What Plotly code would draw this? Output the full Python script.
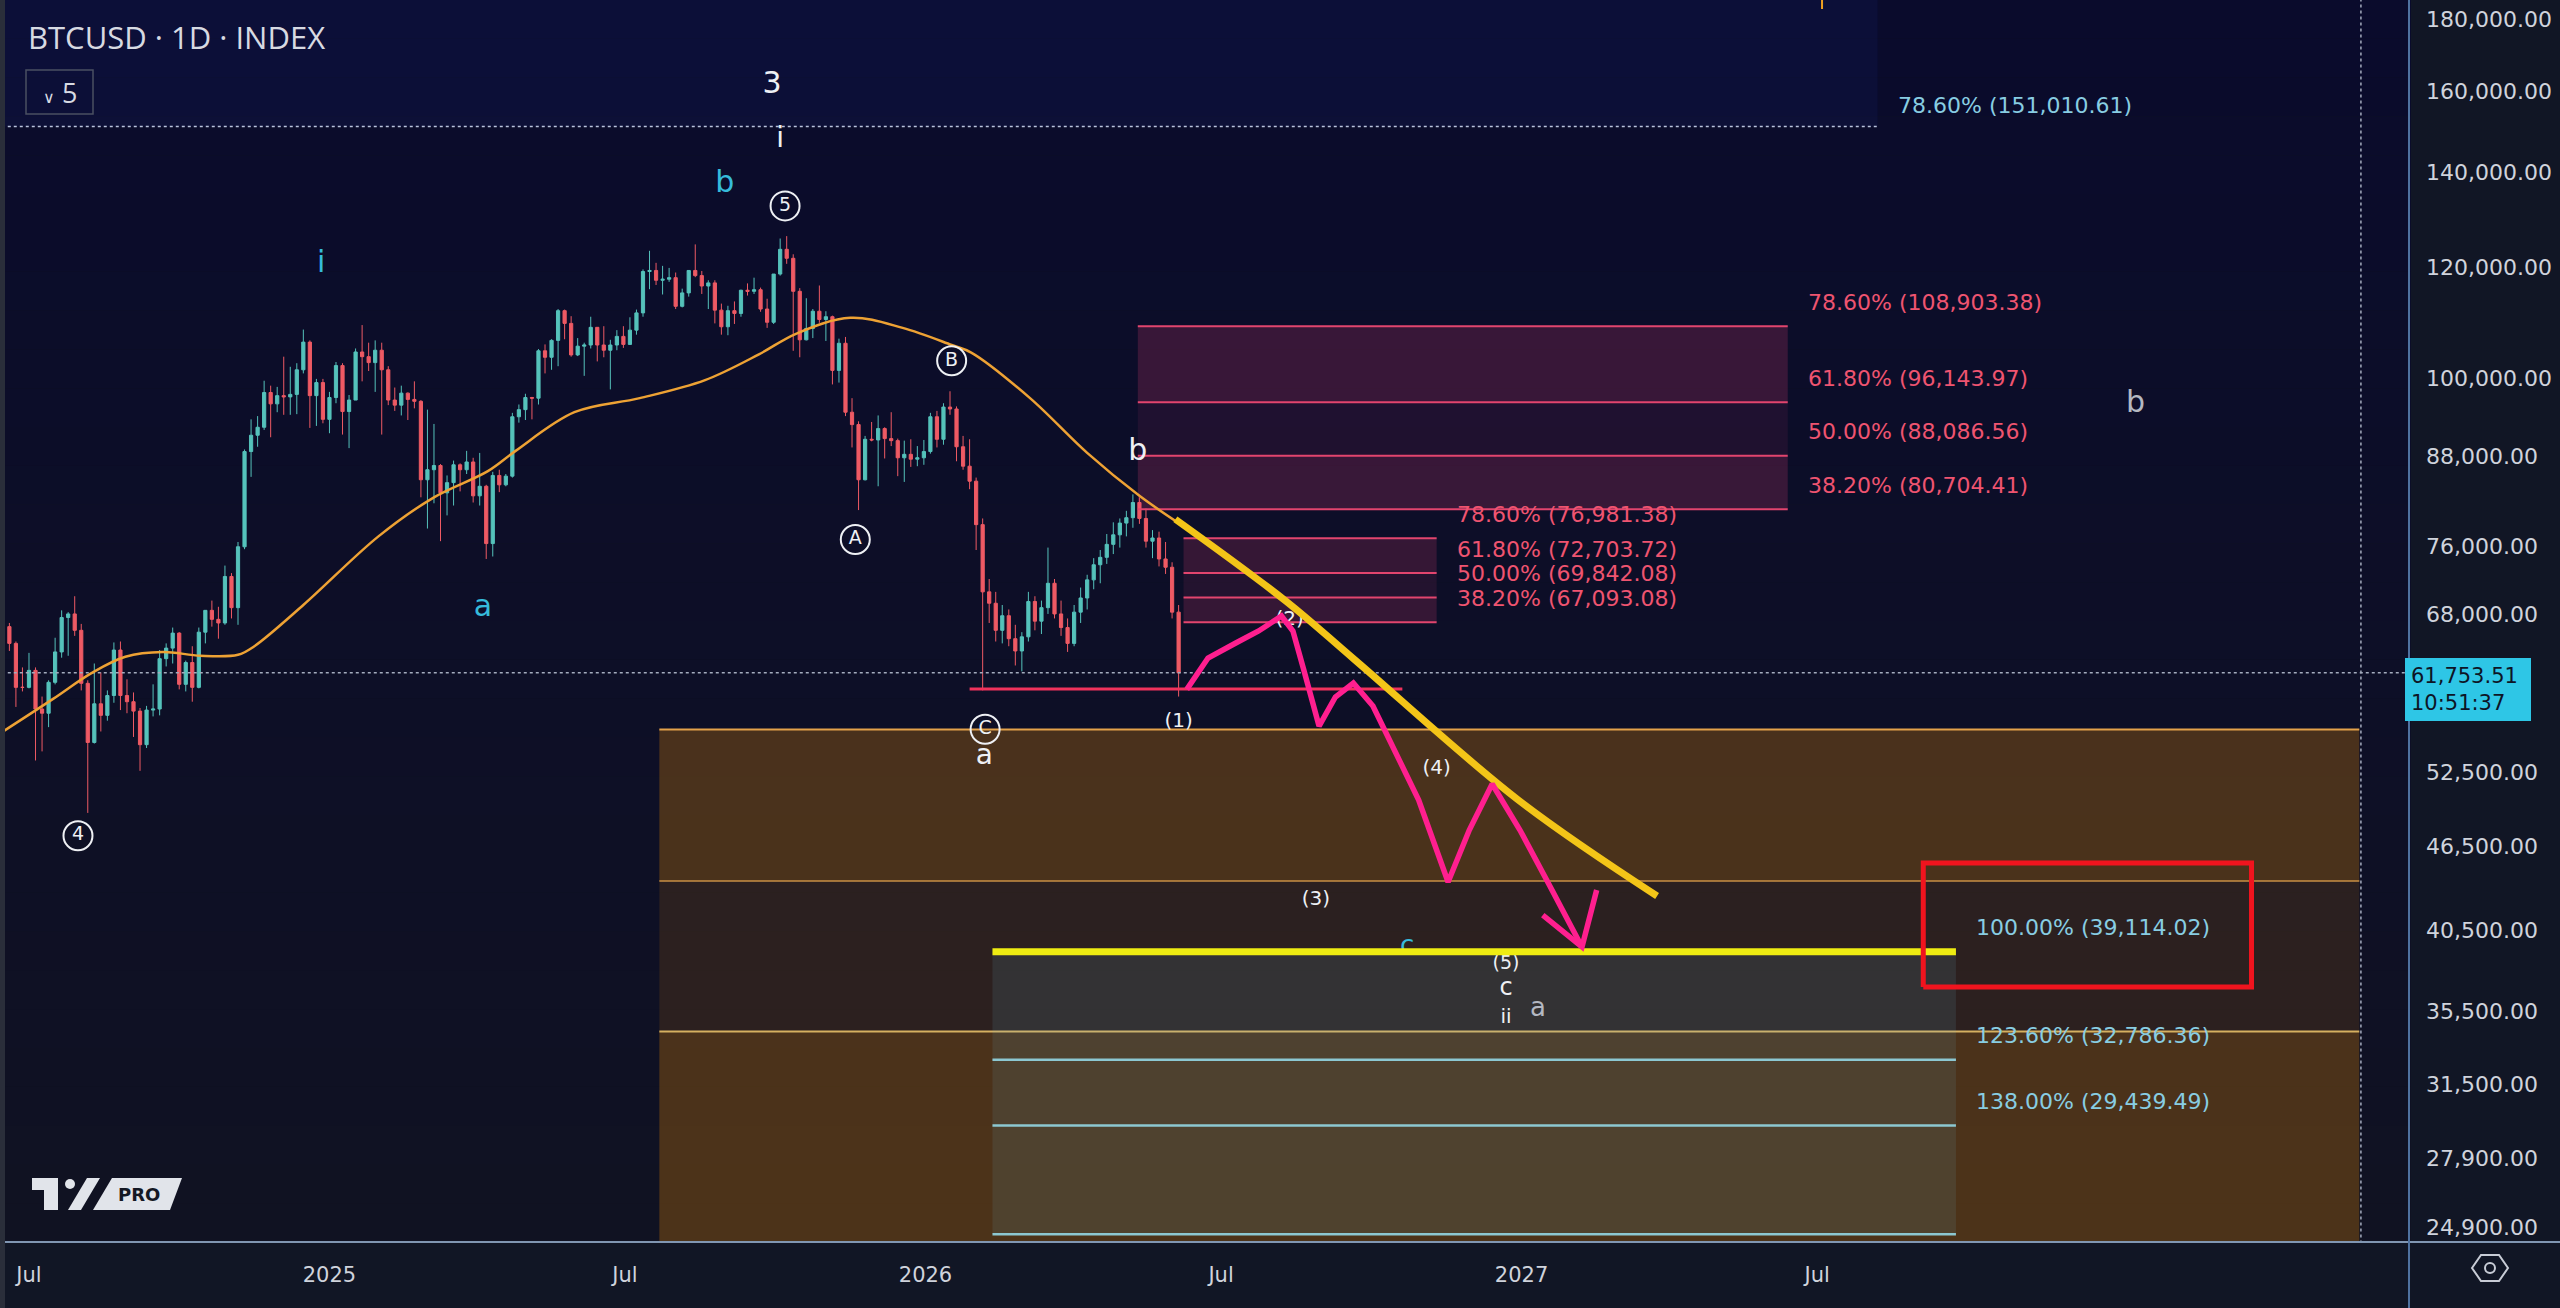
import numpy as np
import pandas as pd
import plotly.graph_objects as go

# ------------------------------------------------------------------ data
# 4-day candles, thousand USD (open of each bar = previous close)
bar_first_center = "2024-06-15"
bar_step = "4D"
first_open_k = 67.0
close_k = [66.6, 64.8, 60.3, 60.3, 62.0, 58.2, 57.8, 60.8, 63.9, 67.6,
           68.0, 66.2, 60.7, 55.1, 58.7, 57.6, 59.5, 64.1, 59.5, 58.9,
           58.0, 54.9, 58.1, 58.2, 63.2, 64.3, 65.9, 60.6, 62.8, 60.3,
           66.0, 68.4, 67.4, 67.0, 72.3, 68.7, 75.9, 88.7, 91.1, 92.3,
           97.7, 95.9, 97.2, 97.0, 97.4, 101.4, 106.1, 97.2, 99.3, 93.5,
           96.9, 102.1, 94.7, 96.5, 104.4, 103.6, 102.6, 104.7, 101.4, 96.5,
           95.7, 97.6, 96.6, 96.3, 84.7, 86.1, 86.7, 82.9, 84.3, 86.8,
           86.1, 87.2, 82.5, 83.8, 76.3, 85.3, 84.0, 85.2, 93.9, 95.0,
           96.9, 96.8, 104.6, 103.5, 106.4, 111.7, 109.4, 103.9, 105.4, 105.6,
           108.7, 105.6, 104.7, 105.6, 107.1, 105.7, 108.2, 111.3, 119.1, 119.3,
           117.4, 117.6, 117.9, 112.5, 115.0, 119.3, 118.3, 116.3, 116.9, 111.8,
           108.8, 111.7, 111.2, 115.5, 115.3, 115.6, 112.0, 109.6, 118.6, 123.5,
           121.7, 115.3, 106.5, 108.5, 111.6, 110.1, 110.6, 101.3, 105.9, 94.6,
           92.7, 84.7, 90.5, 90.4, 92.1, 90.6, 90.3, 87.8, 88.3, 87.6,
           87.8, 88.7, 93.9, 90.5, 95.4, 95.1, 89.4, 86.6, 84.5, 78.7,
           70.5, 69.2, 66.2, 67.8, 65.3, 64.0, 65.5, 69.4, 67.2, 68.7,
           71.5, 68.0, 66.5, 64.8, 68.2, 69.8, 71.9, 73.7, 74.6, 76.2,
           77.4, 78.9, 79.6, 81.6, 79.5, 76.6, 77.0, 74.4, 73.4, 68.2,
           61.75]
high_k = [67.5, 67.0, 65.0, 62.3, 63.8, 62.3, 59.4, 61.0, 65.4, 68.4,
          68.2, 70.0, 66.9, 61.0, 62.7, 61.8, 60.0, 64.9, 65.0, 61.1,
          59.8, 58.3, 58.5, 60.6, 64.1, 64.8, 66.5, 66.0, 63.0, 64.5,
          66.5, 68.4, 69.5, 68.8, 73.6, 72.7, 76.5, 89.0, 93.5, 94.0,
          99.6, 98.8, 98.6, 103.6, 101.9, 102.5, 108.3, 106.4, 99.9, 99.9,
          97.8, 102.7, 102.5, 97.3, 105.0, 109.1, 106.0, 106.4, 106.0, 102.0,
          98.5, 98.8, 97.7, 99.5, 96.5, 95.0, 92.8, 86.9, 85.3, 87.4,
          87.0, 88.8, 87.8, 88.5, 84.0, 85.8, 86.1, 85.5, 94.5, 95.8,
          97.5, 97.0, 104.9, 105.7, 106.6, 112.0, 111.9, 110.7, 106.8, 106.0,
          110.6, 108.7, 108.9, 106.5, 108.2, 108.9, 110.5, 111.9, 119.5, 123.2,
          120.8, 120.2, 119.8, 118.9, 115.8, 119.3, 124.5, 119.2, 117.4, 117.4,
          113.0, 112.6, 113.4, 115.6, 116.8, 117.9, 116.0, 113.9, 118.6, 125.7,
          126.2, 122.5, 115.9, 114.0, 112.0, 116.4, 111.6, 110.8, 106.7, 107.0,
          96.8, 93.2, 91.0, 93.1, 94.1, 92.3, 94.6, 90.6, 90.3, 90.5,
          89.5, 90.4, 94.5, 94.8, 96.0, 97.9, 95.5, 91.0, 90.5, 85.0,
          79.5, 72.0, 70.5, 69.0, 68.5, 66.8, 66.0, 70.5, 70.0, 69.5,
          75.8, 72.0, 69.5, 67.5, 69.0, 71.0, 72.5, 74.5, 75.5, 77.5,
          79.0, 79.5, 80.5, 82.7, 82.3, 80.8, 78.0, 77.8, 76.5, 74.0,
          69.0]
low_k = [65.0, 64.0, 58.4, 59.9, 60.2, 53.5, 54.3, 56.5, 60.6, 63.3,
         63.5, 65.6, 60.0, 49.1, 55.0, 56.1, 57.1, 58.8, 58.1, 57.8,
         55.6, 52.6, 54.6, 57.5, 57.6, 62.4, 62.7, 60.1, 59.9, 58.9,
         60.2, 64.8, 66.6, 65.3, 66.8, 67.5, 66.8, 75.6, 85.1, 89.4,
         91.9, 90.8, 94.6, 94.2, 94.2, 94.3, 100.8, 92.2, 92.5, 92.9,
         91.4, 96.0, 91.2, 89.2, 96.5, 99.5, 101.2, 97.8, 91.2, 95.7,
         94.8, 94.1, 93.4, 95.2, 82.3, 78.2, 81.5, 76.6, 79.9, 81.2,
         83.1, 85.5, 81.6, 81.2, 74.4, 74.7, 83.0, 83.8, 85.0, 93.0,
         93.4, 93.5, 95.8, 100.8, 101.4, 102.0, 106.6, 103.6, 103.7, 100.4,
         105.0, 102.8, 103.5, 98.2, 104.7, 105.1, 105.6, 107.4, 110.6, 115.7,
         116.5, 114.7, 117.1, 112.0, 112.3, 114.3, 118.0, 114.8, 112.0, 109.4,
         107.4, 107.3, 109.3, 110.6, 114.5, 114.8, 111.5, 108.6, 109.3, 118.3,
         120.6, 104.6, 103.5, 106.4, 106.8, 109.5, 106.3, 99.0, 99.3, 94.0,
         89.3, 80.6, 84.6, 90.2, 83.8, 87.7, 89.5, 85.2, 84.4, 86.5,
         86.6, 86.8, 88.4, 89.3, 89.7, 94.2, 87.3, 86.1, 83.4, 75.5,
         60.0, 67.0, 65.0, 64.8, 64.5, 62.5, 61.9, 65.0, 66.2, 65.8,
         68.0, 67.5, 65.6, 63.9, 64.5, 67.0, 68.5, 70.8, 71.5, 73.8,
         75.0, 75.8, 77.2, 78.3, 78.8, 75.8, 74.5, 73.5, 72.6, 67.5,
         59.4]

# moving average, thousand USD
ma_date = ["2024-06-12", "2024-07-16", "2024-08-08", "2024-08-29", "2024-09-21",
           "2024-10-14", "2024-11-06", "2024-11-16", "2024-12-16", "2025-01-31",
           "2025-03-06", "2025-04-08", "2025-04-25", "2025-05-31", "2025-07-10",
           "2025-08-19", "2025-09-21", "2025-10-14", "2025-11-16", "2025-12-18",
           "2026-01-17", "2026-01-29", "2026-03-06", "2026-04-10", "2026-05-12",
           "2026-06-05"]
ma_k = [55.8, 59.2, 61.7, 63.4, 63.9, 63.5, 63.6, 64.5, 69.0, 77.2,
        82.3, 85.9, 88.8, 94.6, 96.8, 99.7, 104.0, 107.6, 110.4, 108.6,
        105.6, 104.3, 96.8, 88.5, 82.5, 78.9]

price_now = 61753.51
clock_now = "10:51:37"

# fib tools
pink_big_x = ["2026-05-11", "2027-06-13"]
pink_big_levels = [108903.38, 96143.97, 88086.56, 80704.41]
pink_small_x = ["2026-06-08", "2026-11-10"]
pink_small_levels = [76981.38, 72703.72, 69842.08, 67093.08]
pink_pcts = ["78.60%", "61.80%", "50.00%", "38.20%"]
orange_x = ["2025-07-22", "2028-05-28"]
orange_levels = [56280.0, 43930.0, 34330.0]
cyan_x = ["2026-02-11", "2027-09-24"]
cyan_levels = [39114.02, 32786.36, 29439.49, 24640.0]
cyan_pcts = ["100.00%", "123.60%", "138.00%"]
top_fib_end = "2027-08-07"
top_fib_level = 151010.61
top_fib_pct = "78.60%"
support_x = ["2026-01-28", "2026-10-20"]
support_level = 60140.0
target_box_x = ["2027-09-04", "2028-03-23"]
target_box_k = [36.93, 45.23]
now_line_date = "2028-05-29"

# hand-drawn projection
trend_date = ["2026-06-03", "2026-08-10", "2026-09-21", "2026-12-30", "2027-03-25"]
trend_k = [79.4, 69.4, 63.06, 50.15, 42.86]
path_date = ["2026-06-10", "2026-06-23", "2026-07-10", "2026-07-24", "2026-08-07",
             "2026-08-14", "2026-08-21", "2026-08-30", "2026-09-09", "2026-09-20",
             "2026-10-02", "2026-10-12", "2026-10-30", "2026-11-17", "2026-11-30",
             "2026-12-14", "2026-12-31", "2027-01-18", "2027-02-07"]
path_k = [60.1, 63.27, 64.84, 66.13, 67.77, 66.13, 61.84, 56.6, 59.36, 60.73,
          58.49, 55.41, 50.15, 43.85, 47.74, 51.48, 47.74, 43.64, 39.43]
arrow_date = ["2027-01-14", "2027-02-07", "2027-02-16"]
arrow_k = [41.54, 39.43, 43.28]

# wave labels
wave_text = ["3", "i", "b", "i", "a", "a", "b", "(1)", "(2)", "(3)", "(4)",
             "(5)", "c", "ii", "a", "c", "b"]
wave_date = ["2025-09-29", "2025-10-04", "2025-08-31", "2024-12-27", "2025-04-05",
             "2026-02-06", "2026-05-11", "2026-06-05", "2026-08-12", "2026-08-28",
             "2026-11-10", "2026-12-22 12:00", "2026-12-22 12:00", "2026-12-22 12:00",
             "2027-01-11", "2026-10-23", "2028-01-12"]
wave_k = [161.6, 147.7, 137.4, 120.4, 68.6, 53.8, 88.5, 57.0, 67.3, 42.6, 52.8,
          38.3, 36.8, 35.1, 35.6, 39.4, 95.8]
circ_text = ["5", "4", "A", "B", "C"]
circ_date = ["2025-10-07", "2024-07-31", "2025-11-19", "2026-01-17", "2026-02-06 12:00"]
circ_k = [132.6, 47.3, 76.8, 102.9, 56.3]

# axes
x_range = ["2024-06-13 06:00", "2028-06-28 16:00"]
x_tickvals = ["2024-07-01", "2025-01-01", "2025-07-01", "2026-01-01",
              "2026-07-01", "2027-01-01", "2027-07-01"]
x_ticktext = ["Jul", "2025", "Jul", "2026", "Jul", "2027", "Jul"]
y_ticks = [180000, 160000, 140000, 120000, 100000, 88000, 76000, 68000,
           52500, 46500, 40500, 35500, 31500, 27900, 24900]
y_range = [24327, 185730]

# ------------------------------------------------------------------ styles
W_, CY, GR = "#eef0f4", "#36bbdb", "#b4b8c2"
wave_color = [W_, W_, CY, CY, CY, W_, W_, W_, W_, W_, W_, W_, W_, W_, GR, CY, GR]
wave_size = [30, 28, 30, 30, 30, 28, 30, 20, 20, 20, 20, 19, 24, 20, 26, 26, 30]
UP, DN = "#55c2bb", "#ee5a64"
PINK_TXT, CYAN_TXT = "#ef5470", "#88cde2"
FONT = "DejaVu Sans"
PR, PB = 2411, 1242          # plot area right / bottom in pixels


def px(x):
    return x / PR


def py(y):
    return 1 - y / PB


fig = go.Figure()

# background gradient
top_rgb, bot_rgb = (10, 11, 44), (16, 18, 34)
n = 32
for i in range(n):
    t = i / (n - 1)
    c = tuple(int(round(top_rgb[k] + (bot_rgb[k] - top_rgb[k]) * t)) for k in range(3))
    fig.add_shape(type="rect", xref="paper", yref="paper", x0=0, x1=1,
                  y0=1 - (i + 1) / n, y1=1 - i / n, fillcolor=f"rgb{c}",
                  line_width=0, layer="below")


def band(x0, x1, y0, y1, color):
    fig.add_trace(go.Scatter(x=[x0, x1, x1, x0, x0], y=[y0, y0, y1, y1, y0],
                             mode="lines", fill="toself", fillcolor=color,
                             line=dict(width=0), hoverinfo="skip", showlegend=False))


def seg(xs, ys, color, width, dash="solid", shape="linear"):
    fig.add_trace(go.Scatter(x=xs, y=ys, mode="lines",
                             line=dict(color=color, width=width, dash=dash, shape=shape),
                             hoverinfo="skip", showlegend=False))


far_left, far_right = "2024-01-01", "2029-01-01"
y_low, y_high = 15000, 300000

# top fib area (above 151k)
band(far_left, top_fib_end, top_fib_level, y_high, "rgba(40,70,200,0.08)")
seg([far_left, top_fib_end], [top_fib_level] * 2, "#b9c2dc", 1.5, "dot")

# orange retracement box
band(orange_x[0], orange_x[1], orange_levels[1], orange_levels[0], "rgba(255,152,0,0.25)")
band(orange_x[0], orange_x[1], orange_levels[2], orange_levels[1], "rgba(255,152,0,0.12)")
band(orange_x[0], orange_x[1], y_low, orange_levels[2], "rgba(255,152,0,0.25)")
seg(orange_x, [orange_levels[0]] * 2, "#e3a24a", 2)
seg(orange_x, [orange_levels[1]] * 2, "#c98f45", 1.5)
seg(orange_x, [orange_levels[2]] * 2, "#d6b060", 2)

# cyan extension box
band(cyan_x[0], cyan_x[1], cyan_levels[-1], cyan_levels[0], "rgba(110,185,205,0.12)")
for lv in cyan_levels[1:]:
    seg(cyan_x, [lv] * 2, "#8cc8d2", 2.5)

# pink retracement boxes
band(pink_big_x[0], pink_big_x[1], pink_big_levels[1], pink_big_levels[0], "rgba(236,64,122,0.20)")
band(pink_big_x[0], pink_big_x[1], pink_big_levels[2], pink_big_levels[1], "rgba(236,64,122,0.09)")
band(pink_big_x[0], pink_big_x[1], pink_big_levels[3], pink_big_levels[2], "rgba(236,64,122,0.20)")
for lv in pink_big_levels:
    seg(pink_big_x, [lv] * 2, "#e2456e", 2)
band(pink_small_x[0], pink_small_x[1], pink_small_levels[1], pink_small_levels[0], "rgba(236,64,122,0.18)")
band(pink_small_x[0], pink_small_x[1], pink_small_levels[2], pink_small_levels[1], "rgba(236,64,122,0.10)")
band(pink_small_x[0], pink_small_x[1], pink_small_levels[3], pink_small_levels[2], "rgba(236,64,122,0.18)")
for lv in pink_small_levels:
    seg(pink_small_x, [lv] * 2, "#e2456e", 2)

# support line, current price line, vertical marker
seg(support_x, [support_level] * 2, "#f0325c", 3)
seg([far_left, far_right], [price_now] * 2, "#a4acbe", 1.5, "dot")
seg([now_line_date] * 2, [y_low, y_high], "#a4acbe", 1.5, "dot")
seg(["2027-07-04"] * 2, [183000, y_high], "#f0a020", 2)

# candles
dates = pd.date_range(bar_first_center, periods=len(close_k), freq=bar_step)
open_k = [first_open_k] + close_k[:-1]
fig.add_trace(go.Candlestick(
    x=dates, open=np.array(open_k) * 1000, high=np.array(high_k) * 1000,
    low=np.array(low_k) * 1000, close=np.array(close_k) * 1000,
    increasing=dict(line=dict(color=UP, width=1), fillcolor=UP),
    decreasing=dict(line=dict(color=DN, width=1), fillcolor=DN),
    whiskerwidth=0, hoverinfo="skip", showlegend=False))

# moving average
seg(ma_date, np.array(ma_k) * 1000, "#eea234", 2.5, shape="spline")

# wave labels
fig.add_trace(go.Scatter(x=wave_date, y=np.array(wave_k) * 1000, mode="text",
                         text=wave_text, textposition="middle center",
                         textfont=dict(family=FONT, color=wave_color, size=wave_size),
                         hoverinfo="skip", showlegend=False))
fig.add_trace(go.Scatter(x=circ_date, y=np.array(circ_k) * 1000, mode="markers+text",
                         text=circ_text, textposition="middle center",
                         textfont=dict(family=FONT, color=W_, size=19),
                         marker=dict(symbol="circle-open", size=29, color=W_,
                                     line=dict(color=W_, width=2)),
                         hoverinfo="skip", showlegend=False))

# projection drawings
seg(cyan_x, [cyan_levels[0]] * 2, "#efec12", 7)
seg(trend_date, np.array(trend_k) * 1000, "#f3c518", 7, shape="spline")
seg(path_date, np.array(path_k) * 1000, "#ff1f8f", 5.5)
seg(arrow_date, np.array(arrow_k) * 1000, "#ff1f8f", 5.5)
tb = target_box_x
seg([tb[0], tb[1], tb[1], tb[0], tb[0]],
    np.array([target_box_k[0], target_box_k[0], target_box_k[1], target_box_k[1], target_box_k[0]]) * 1000,
    "#f0141e", 5)

# ------------------------------------------------------------------ labels
ann = []


def fib_label(x, level, pct, color):
    ann.append(dict(x=x, y=np.log10(level), xref="x", yref="y", xanchor="left",
                    yanchor="middle", xshift=18, yshift=24, showarrow=False,
                    text=f"{pct} ({level:,.2f})", font=dict(family=FONT, size=22, color=color)))


for lv, pc in zip(pink_big_levels, pink_pcts):
    fib_label(pink_big_x[1], lv, pc, PINK_TXT)
for lv, pc in zip(pink_small_levels, pink_pcts):
    fib_label(pink_small_x[1], lv, pc, PINK_TXT)
for lv, pc in zip(cyan_levels[:3], cyan_pcts):
    fib_label(cyan_x[1], lv, pc, CYAN_TXT)
fib_label(top_fib_end, top_fib_level, top_fib_pct, CYAN_TXT)
ann[-1]["yshift"] = 21

# header
ann.append(dict(x=px(26), y=py(37), xref="paper", yref="paper", xanchor="left",
                yanchor="middle", showarrow=False, text="BTCUSD · 1D · INDEX",
                font=dict(family="Open Sans", size=31, color="#d7dae2")))
ann.append(dict(x=px(59.5), y=py(92), xref="paper", yref="paper", xanchor="center",
                yanchor="middle", showarrow=False,
                text="<span style='font-size:16px'>∨</span> 5",
                font=dict(family="Open Sans", size=27, color="#d7dae2")))
# current price label on the axis
ann.append(dict(x=1, y=np.log10(price_now), xref="paper", yref="y", xanchor="left",
                yanchor="top", xshift=-6, yshift=15, showarrow=False,
                text=f"{price_now:,.2f}<br>{clock_now}", align="left",
                bgcolor="#2ec6e6", width=114, height=51, borderpad=6, borderwidth=0,
                font=dict(family=FONT, size=21, color="#0d1526")))

shapes = []
# ∨ 5 box
shapes.append(dict(type="rect", xref="paper", yref="paper", x0=px(26), x1=px(93),
                   y0=py(114), y1=py(70), line=dict(color="#4a5062", width=1.5)))
# frame lines
shapes.append(dict(type="line", xref="paper", yref="paper", x0=0, x1=2560 / PR,
                   y0=py(1242), y1=py(1242), line=dict(color="#8096b2", width=2)))
shapes.append(dict(type="line", xref="paper", yref="paper", x0=px(2409), x1=px(2409),
                   y0=py(0), y1=py(1308), line=dict(color="#4f72a0", width=2)))
shapes.append(dict(type="rect", xref="paper", yref="paper", x0=0, x1=px(5),
                   y0=py(1308), y1=py(0), line=dict(width=0), fillcolor="#2a2e3a"))


def path(pts):
    return "M " + " L ".join(f"{px(a):.6f},{py(b):.6f}" for a, b in pts) + " Z"


LOGO = "#e1e4ea"
shapes.append(dict(type="path", xref="paper", yref="paper", line=dict(width=0), fillcolor=LOGO,
                   layer="below",
                   path=path([(32, 1178), (58, 1178), (58, 1210), (44, 1210), (44, 1190), (32, 1190)])))
shapes.append(dict(type="circle", xref="paper", yref="paper", x0=px(65), x1=px(75),
                   y0=py(1189), y1=py(1179), line=dict(width=0), fillcolor=LOGO, layer="below"))
shapes.append(dict(type="path", xref="paper", yref="paper", line=dict(width=0), fillcolor=LOGO,
                   layer="below", path=path([(68, 1210), (81, 1210), (100, 1178), (87, 1178)])))
shapes.append(dict(type="path", xref="paper", yref="paper", line=dict(width=0), fillcolor=LOGO,
                   layer="below", path=path([(93, 1210), (112, 1178), (182, 1178), (170, 1210)])))
ann.append(dict(x=px(139), y=py(1194), xref="paper", yref="paper", showarrow=False,
                xanchor="center", yanchor="middle",
                text="<b>PRO</b>", font=dict(family=FONT, size=18, color="#141824")))
# settings hexagon
shapes.append(dict(type="path", xref="paper", yref="paper", line=dict(color="#c8ccd6", width=2),
                   path=path([(2472, 1268), (2481, 1255), (2499, 1255), (2508, 1268),
                              (2499, 1281), (2481, 1281)])))
shapes.append(dict(type="circle", xref="paper", yref="paper", x0=px(2485), x1=px(2495),
                   y0=py(1273), y1=py(1263), line=dict(color="#c8ccd6", width=2)))

fig.update_layout(
    width=2560, height=1308, margin=dict(l=0, r=2560 - PR, t=0, b=1308 - PB),
    paper_bgcolor="#111625", plot_bgcolor="rgb(16,18,34)", showlegend=False,
    hovermode=False, annotations=ann, shapes=list(fig.layout.shapes) + shapes,
    xaxis=dict(type="date", range=x_range, tickvals=x_tickvals, ticktext=x_ticktext,
               showgrid=False, zeroline=False, showline=False, ticks="",
               tickfont=dict(family=FONT, size=21, color="#cfd3dc"),
               ticklabelstandoff=18, rangeslider=dict(visible=False)),
    yaxis=dict(type="log", range=[np.log10(y_range[0]), np.log10(y_range[1])],
               side="right", tickvals=y_ticks, ticktext=[f"{v:,.2f}" for v in y_ticks],
               showgrid=False, zeroline=False, showline=False, ticks="",
               tickfont=dict(family=FONT, size=22, color="#cfd3dc"),
               ticklabelstandoff=14),
)

fig.write_html("out.html")
